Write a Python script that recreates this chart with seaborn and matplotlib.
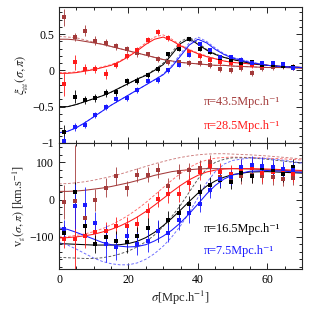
import numpy as np
import pandas as pd
import matplotlib
matplotlib.use("Agg")
import matplotlib.pyplot as plt
from matplotlib.ticker import MultipleLocator
import seaborn as sns

# ---------------- data ----------------
sigma = [1.5, 4.5, 7.5, 10.5, 13.5, 16.5, 19.5, 22.5, 25.5, 28.5, 31.5, 34.5,
         37.5, 40.5, 43.5, 46.5, 49.5, 52.5, 55.5, 58.5, 61.5, 64.5, 67.5]

# top panel: xi_gg(sigma, pi) measurements
xi_pi43 = [0.73, 0.46, 0.55, 0.41, 0.38, 0.33, 0.29, 0.24, 0.22, 0.16, 0.12, 0.11,
           0.10, 0.10, 0.07, 0.02, 0.01, 0.03, -0.04, 0.03, 0.05, 0.06, 0.05]
xi_pi28 = [-0.19, 0.11, 0.02, 0.02, -0.05, 0.07, 0.20, 0.28, 0.42, 0.53, 0.45, 0.34,
           0.26, 0.20, 0.15, 0.12, 0.10, 0.08, 0.07, 0.06, 0.09, 0.07, 0.05]
xi_pi16 = [-0.85, -0.36, -0.41, -0.38, -0.31, -0.30, -0.15, -0.14, -0.07, 0.02, 0.22, 0.30,
           0.43, 0.30, 0.26, 0.17, 0.14, 0.10, 0.12, 0.08, 0.08, 0.06, 0.05]
xi_pi7 = [-0.98, -0.78, -0.75, -0.62, -0.51, -0.39, -0.38, -0.27, -0.14, -0.13, 0.0, 0.08,
          0.21, 0.36, 0.28, 0.18, 0.18, 0.15, 0.10, 0.10, 0.10, 0.09, 0.03]
xi_err43 = [0.12, 0.05, 0.08, 0.06, 0.05, 0.05, 0.05, 0.05, 0.04, 0.04, 0.04, 0.04,
            0.04, 0.04, 0.04, 0.04, 0.04, 0.04, 0.04, 0.04, 0.04, 0.04, 0.04]
xi_err28 = [0.16, 0.10, 0.07, 0.06, 0.07, 0.04, 0.04, 0.04, 0.04, 0.04, 0.04, 0.04,
            0.04, 0.04, 0.04, 0.04, 0.04, 0.04, 0.04, 0.04, 0.04, 0.04, 0.04]
xi_err16 = [0.10, 0.09, 0.06, 0.05, 0.05, 0.05, 0.05, 0.05, 0.04, 0.04, 0.04, 0.03,
            0.03, 0.03, 0.03, 0.03, 0.03, 0.03, 0.03, 0.03, 0.03, 0.03, 0.03]
xi_err7 = [0.08, 0.06, 0.05, 0.04, 0.04, 0.04, 0.04, 0.04, 0.04, 0.04, 0.04, 0.03,
           0.03, 0.03, 0.03, 0.03, 0.03, 0.03, 0.03, 0.03, 0.03, 0.03, 0.03]

# bottom panel: v_g(sigma, pi) measurements
v_pi43 = [-6, -4, -50, -1, 32, 63, 30, 66, 67, 78, 37, 75,
          78, 86, 100, 60, 58, 62, 65, 63, 60, 56, 59]
v_pi28 = [-105, -105, -99, -88, -85, -72, -70, -66, -30, 2, 14, 16,
          45, 75, 90, 74, 68, 83, 86, 71, 73, 70, 68]
v_pi16 = [-89, 21, -70, -119, -101, -110, -115, -98, -75, -85, -56, -37,
          -12, 20, 39, 52, 48, 70, 64, 84, 79, 68, 88]
v_pi7 = [-80, -18, -15, -63, -118, -126, -99, -118, -110, -85, -90, -56,
         -37, -11, 25, 55, 60, 88, 92, 90, 88, 81, 78]
v_err43 = [45, 150, 40, 30, 25, 25, 20, 20, 20, 20, 20, 20,
           20, 20, 20, 20, 20, 20, 20, 20, 20, 20, 20]
v_err28 = [25, 90, 30, 25, 25, 25, 22, 22, 22, 22, 22, 22,
           22, 22, 22, 25, 25, 25, 25, 25, 22, 22, 22]
v_err16 = [20, 25, 25, 25, 28, 25, 28, 25, 25, 28, 25, 25,
           22, 22, 22, 20, 20, 20, 20, 20, 20, 20, 20]
v_err7 = [25, 60, 50, 30, 50, 35, 30, 30, 30, 30, 25, 25,
          25, 22, 22, 20, 20, 20, 25, 25, 22, 22, 22]

# model curves
sig_m = [0, 2.5, 5, 7.5, 10, 12.5, 15, 17.5, 20, 22.5, 25, 27.5, 30, 32.5, 35,
         37.5, 40, 42.5, 45, 47.5, 50, 55, 60, 65, 70]
xim_pi43 = [0.43, 0.43, 0.42, 0.40, 0.38, 0.36, 0.33, 0.30, 0.27, 0.24, 0.21, 0.18, 0.15,
            0.13, 0.11, 0.10, 0.09, 0.08, 0.07, 0.07, 0.06, 0.05, 0.04, 0.04, 0.03]
xim_pi28 = [-0.04, -0.04, -0.03, -0.01, 0.01, 0.04, 0.07, 0.12, 0.19, 0.27, 0.36, 0.43, 0.46,
            0.41, 0.34, 0.28, 0.23, 0.19, 0.16, 0.13, 0.11, 0.09, 0.07, 0.05, 0.04]
xim_pi16 = [-0.50, -0.50, -0.47, -0.43, -0.39, -0.35, -0.30, -0.24, -0.18, -0.12, -0.07, 0.0, 0.08,
            0.22, 0.37, 0.44, 0.36, 0.28, 0.22, 0.18, 0.15, 0.10, 0.07, 0.05, 0.04]
xim_pi7 = [-0.86, -0.84, -0.79, -0.72, -0.64, -0.56, -0.48, -0.41, -0.34, -0.27, -0.20, -0.13, -0.06,
           0.05, 0.20, 0.35, 0.43, 0.38, 0.29, 0.22, 0.17, 0.11, 0.07, 0.05, 0.04]
xid_pi43 = [0.47, 0.46, 0.45, 0.42, 0.39, 0.36, 0.33, 0.30, 0.27, 0.24, 0.21, 0.18, 0.15,
            0.13, 0.11, 0.10, 0.09, 0.08, 0.07, 0.07, 0.06, 0.05, 0.04, 0.04, 0.03]
xid_pi28 = [-0.03, -0.03, -0.02, 0.0, 0.02, 0.05, 0.08, 0.13, 0.20, 0.29, 0.38, 0.46, 0.49,
            0.43, 0.35, 0.29, 0.24, 0.20, 0.16, 0.13, 0.11, 0.09, 0.07, 0.05, 0.04]
xid_pi16 = [-0.50, -0.50, -0.47, -0.43, -0.39, -0.35, -0.30, -0.24, -0.18, -0.12, -0.06, 0.01, 0.10,
            0.25, 0.40, 0.46, 0.38, 0.29, 0.23, 0.18, 0.15, 0.10, 0.07, 0.05, 0.04]
xid_pi7 = [-0.86, -0.84, -0.79, -0.72, -0.64, -0.56, -0.48, -0.41, -0.34, -0.27, -0.20, -0.13, -0.05,
           0.07, 0.23, 0.38, 0.46, 0.40, 0.31, 0.23, 0.18, 0.12, 0.07, 0.05, 0.04]

vm_pi43 = [22, 22, 23, 25, 28, 31, 35, 40, 45, 51, 58, 65, 70, 75, 78,
           80, 82, 83, 83, 83, 83, 82, 80, 78, 76]
vm_pi28 = [-103, -102, -100, -97, -93, -87, -80, -71, -60, -47, -32, -15, 3, 21, 38,
           53, 65, 74, 79, 82, 83, 83, 82, 80, 78]
vm_pi16 = [-118, -119, -120, -121, -122, -122, -122, -121, -118, -112, -102, -88, -70, -50, -28,
           -5, 17, 36, 50, 60, 67, 74, 75, 73, 71]
vm_pi7 = [-76, -80, -88, -97, -106, -115, -121, -125, -127, -126, -121, -111, -98, -82, -62,
          -38, -12, 15, 38, 55, 66, 76, 78, 76, 73]
vd_pi43 = [42, 43, 45, 48, 52, 57, 62, 68, 75, 82, 89, 96, 102, 108, 113,
           117, 120, 122, 123, 123, 122, 120, 117, 113, 109]
vd_pi28 = [-100, -99, -96, -92, -86, -78, -68, -56, -42, -26, -8, 12, 32, 52, 70,
           86, 98, 106, 111, 113, 114, 113, 111, 109, 106]
vd_pi16 = [-155, -156, -157, -158, -158, -156, -152, -146, -138, -127, -113, -95, -72, -45, -15,
           20, 55, 82, 100, 108, 112, 112, 108, 103, 97]
vd_pi7 = [-115, -122, -133, -145, -157, -166, -172, -175, -175, -170, -160, -145, -125, -100, -70,
          -35, 5, 45, 75, 95, 105, 112, 110, 105, 98]

labels = ["π=43.5Mpc.h⁻¹", "π=28.5Mpc.h⁻¹", "π=16.5Mpc.h⁻¹", "π=7.5Mpc.h⁻¹"]

# ---------------- style ----------------
sns.set_style("ticks")
plt.rcParams["font.family"] = ["Liberation Serif", "DejaVu Serif"]
plt.rcParams["mathtext.fontset"] = "stix"
plt.rcParams["axes.linewidth"] = 0.8

c_brown = "#a33a3a"
c_red = "#ff1a1a"
c_black = "#000000"
c_blue = "#1a1aff"
d_brown = "#cc7a7a"
d_red = "#ff6666"
d_black = "#555555"
d_blue = "#6666ff"

fig = plt.figure(figsize=(3.19, 3.19), dpi=100)
ax1 = fig.add_axes([0.185, 0.552, 0.762, 0.425])
ax2 = fig.add_axes([0.185, 0.157, 0.762, 0.395], sharex=ax1)

def model(ax, x, y, color, ls="-", lw=0.75):
    df = pd.DataFrame({"s": x, "v": y})
    sns.lineplot(data=df, x="s", y="v", ax=ax, color=color, linestyle=ls,
                 linewidth=lw, estimator=None, sort=False, legend=False,
                 dashes=False)
    if ls != "-":
        ax.lines[-1].set_dashes([3, 2])

def points(ax, x, y, e, color):
    ax.errorbar(x, y, yerr=e, fmt="s", color=color, ms=2.8, mew=0,
                elinewidth=0.6, capsize=1.8, capthick=0.6, zorder=5)

# top panel
for ym, yd, c, d in [(xim_pi43, xid_pi43, c_brown, d_brown),
                     (xim_pi28, xid_pi28, c_red, d_red),
                     (xim_pi16, xid_pi16, c_black, d_black),
                     (xim_pi7, xid_pi7, c_blue, d_blue)]:
    model(ax1, sig_m, yd, d, ls="--", lw=0.65)
    model(ax1, sig_m, ym, c)
for y, e, c in [(xi_pi43, xi_err43, c_brown), (xi_pi28, xi_err28, c_red),
                (xi_pi16, xi_err16, c_black), (xi_pi7, xi_err7, c_blue)]:
    points(ax1, sigma, y, e, c)

# bottom panel
for ym, yd, c, d in [(vm_pi43, vd_pi43, c_brown, d_brown),
                     (vm_pi28, vd_pi28, c_red, d_red),
                     (vm_pi16, vd_pi16, c_black, d_black),
                     (vm_pi7, vd_pi7, c_blue, d_blue)]:
    model(ax2, sig_m, yd, d, ls="--", lw=0.65)
    model(ax2, sig_m, ym, c)
for y, e, c in [(v_pi43, v_err43, c_brown), (v_pi28, v_err28, c_red),
                (v_pi16, v_err16, c_black), (v_pi7, v_err7, c_blue)]:
    points(ax2, sigma, y, e, c)

# axes
ax1.set_xlim(0, 70)
ax1.set_ylim(-1.0, 0.87)
ax2.set_ylim(-186, 152)
for ax in (ax1, ax2):
    ax.xaxis.set_major_locator(MultipleLocator(20))
    ax.xaxis.set_minor_locator(MultipleLocator(5))
    ax.tick_params(which="both", direction="in", top=True, right=True,
                   labelsize=8.5, width=0.6, colors="black")
    ax.tick_params(which="major", length=4.5)
    ax.tick_params(which="minor", length=2.2)
    ax.set_xlabel("")
    ax.set_ylabel("")
ax1.yaxis.set_major_locator(MultipleLocator(0.5))
ax1.yaxis.set_minor_locator(MultipleLocator(0.1))
ax1.set_yticks([-1, -0.5, 0, 0.5])
ax1.set_yticklabels(["−1", "−0.5", "0", "0.5"])
ax2.yaxis.set_major_locator(MultipleLocator(100))
ax2.yaxis.set_minor_locator(MultipleLocator(20))
plt.setp(ax1.get_xticklabels(), visible=False)

ax1.set_ylabel(r"$\xi_{_{\rm gg}}(\sigma,\pi)$", fontsize=9, labelpad=2)
ax2.set_ylabel(r"v$_{_{\rm g}}(\sigma,\pi)$ [km.s$^{-1}$]", fontsize=8.8, labelpad=1)
ax2.set_xlabel(r"$\sigma$[Mpc.h$^{-1}$]", fontsize=9, labelpad=2)

tkw = dict(fontsize=8.8, va="center")
ax1.text(41.8, -0.44, labels[0], color=c_brown, **tkw)
ax1.text(41.8, -0.76, labels[1], color=c_red, **tkw)
ax2.text(41.8, -80, labels[2], color=c_black, **tkw)
ax2.text(41.8, -137, labels[3], color=c_blue, **tkw)

fig.savefig("out.png", dpi=100)
